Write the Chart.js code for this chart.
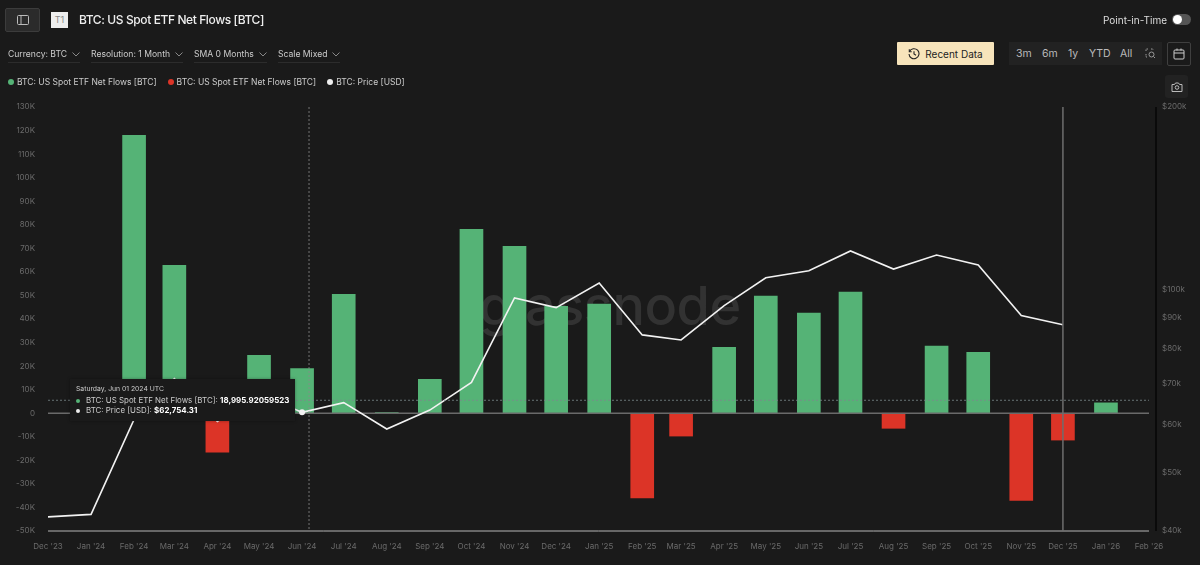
<!DOCTYPE html>
<html>
<head>
<meta charset="utf-8">
<title>BTC: US Spot ETF Net Flows [BTC]</title>
<script src="https://cdn.jsdelivr.net/npm/chart.js@4"></script>
<style>
  html, body { margin: 0; padding: 0; width: 1200px; height: 565px; overflow: hidden; background: #1a1a1a; font-family: Inter, "Noto Sans", sans-serif; color: #ddd; }
  .abs { position: absolute; white-space: nowrap; }
  #chart { position: absolute; left: 0; top: 0; }
  #watermark { left: 479px; top: 273px; font-size: 54px; font-weight: 500; color: #323232; letter-spacing: -0.5px; }
  #sidebtn { left: 5px; top: 8px; width: 33px; height: 22px; background: #2b2b2b; border: 1px solid #3c3c3c; border-radius: 2px; display: flex; align-items: center; justify-content: center; }
  #t1 { left: 51px; top: 12px; width: 17px; height: 16px; background: #eee; color: #888; font-size: 9px; line-height: 16px; text-align: center; }
  #title { left: 79px; top: 12px; font-size: 12px; font-weight: 500; color: #eee; letter-spacing: -0.4px; }
  #pit { left: 1103px; top: 14px; font-size: 10px; color: #ddd; }
  #toggle { left: 1172px; top: 14px; width: 19px; height: 11px; border-radius: 6px; background: #555; }
  #toggle i { position: absolute; left: 1px; top: 1px; width: 9px; height: 9px; border-radius: 50%; background: #fff; }
  .ctl { top: 48px; font-size: 8.6px; line-height: 13px; color: #ccc; height: 13px; border-bottom: 1px solid #2c2c2c; padding-bottom: 1px; }
  .ctl svg { margin-left: 5px; vertical-align: 0; }
  #recent { left: 897px; top: 42px; width: 97px; height: 23px; background: #f7e4bb; border-radius: 1px; color: #222; font-size: 10px; display: flex; align-items: center; justify-content: center; gap: 5px; }
  #ranges { left: 1009px; top: 42px; width: 153px; height: 23px; background: #222; }
  #ranges span { position: absolute; top: 5px; font-size: 10.5px; color: #bbb; }
  #calendar { left: 1167px; top: 42px; width: 22px; height: 22px; border: 1px solid #3f3f3f; border-radius: 2px; display: flex; align-items: center; justify-content: center; }
  #camera { left: 1165px; top: 75px; width: 23px; height: 23px; background: #222; border-radius: 3px; display: flex; align-items: center; justify-content: center; }
  #legend { left: 8px; top: 77px; font-size: 8.5px; color: #ccc; display: flex; gap: 11px; }
  #legend i { display: inline-block; width: 6px; height: 6px; border-radius: 50%; margin-right: 3px; }
  #tooltip { left: 70px; top: 379px; width: 225px; height: 42px; background: #1a1a1a; box-shadow: 0 0 3px rgba(0,0,0,.35); font-size: 7.9px; color: #ccc; }
  #tooltip div { position: absolute; left: 6px; white-space: nowrap; }
  #tooltip i { position: absolute; left: 0; top: 4px; width: 4px; height: 4px; border-radius: 50%; margin-left: 0; }
  #tooltip span { margin-left: 10px; }
  #tooltip b { color: #fff; font-weight: 700; }
</style>
</head>
<body>
<div class="abs" id="watermark">glassnode</div>
<canvas id="chart" width="1200" height="565"></canvas>

<div class="abs" id="sidebtn"><svg width="12" height="10" viewBox="0 0 12 10" fill="none" stroke="#bbb"><rect x=".5" y=".5" width="11" height="9" rx="1"/><path d="M4 .5v9"/></svg></div>
<div class="abs" id="t1">T1</div>
<div class="abs" id="title">BTC: US Spot ETF Net Flows [BTC]</div>
<div class="abs" id="pit">Point-in-Time</div>
<div class="abs" id="toggle"><i></i></div>
<div id="controls"></div>
<div class="abs" id="recent"><svg width="12" height="12" viewBox="0 0 12 12" fill="none" stroke="#222" stroke-width="1.1"><path d="M1.5 3.5A5 5 0 1 1 1 6"/><path d="M1.3 1.3v2.4h2.4M6 3.3V6l2 1.2"/></svg>Recent Data</div>
<div class="abs" id="ranges"></div>
<div class="abs" id="calendar"><svg width="12" height="12" viewBox="0 0 12 12" fill="none" stroke="#ccc"><rect x="1" y="2" width="10" height="9" rx="1"/><path d="M1 5h10M4 .5v2M8 .5v2"/></svg></div>
<div class="abs" id="camera"><svg width="12" height="10" viewBox="0 0 12 10" fill="none" stroke="#bbb"><path d="M1 2.5h2.5L4.5 1h3l1 1.500H11v7H1z"/><circle cx="6" cy="5.500" r="1.800"/></svg></div>
<div class="abs" id="legend"></div>
<div class="abs" id="tooltip"></div>

<script>
// Axis data, x positions are days since 1 Dec 2023
const monthLabels = ["Dec '23", "Jan '24", "Feb '24", "Mar '24", "Apr '24", "May '24", "Jun '24", "Jul '24", "Aug '24", "Sep '24", "Oct '24", "Nov '24", "Dec '24", "Jan '25", "Feb '25", "Mar '25", "Apr '25", "May '25", "Jun '25", "Jul '25", "Aug '25", "Sep '25", "Oct '25", "Nov '25", "Dec '25", "Jan '26", "Feb '26"];
const monthDays = [0, 31, 62, 91, 122, 152, 183, 213, 244, 275, 305, 336, 366, 397, 428, 456, 487, 517, 548, 578, 609, 640, 670, 701, 731, 762, 793];

// Net flows in BTC
const netFlows = [null, null, 118000, 62800, -16500, 24600, 18996, 50500, 300, 14400, 78100, 70900, 45400, 46300, -36000, -9700, 28000, 49700, 42500, 51400, -6400, 28500, 25900, -37000, -11400, 4400, null];

// BTC price in USD, ends at Dec '25
const prices = [42200, 42600, 61100, 71300, 60600, 67500, 62754, 65100, 58900, 63300, 70300, 96900, 93400, 102500, 84200, 82600, 94100, 104600, 107400, 115800, 108100, 114000, 109800, 90600, 87500, null, null];

const priceTicks = [40000, 50000, 60000, 70000, 80000, 90000, 100000, 200000];

const legendNames = ["BTC: US Spot ETF Net Flows [BTC]", "BTC: US Spot ETF Net Flows [BTC]", "BTC: Price [USD]"];
const controlNames = ["Currency: BTC", "Resolution: 1 Month", "SMA 0 Months", "Scale Mixed"];
const rangeNames = ["3m", "6m", "1y", "YTD", "All"];

const GREEN = '#55b376';
const RED = '#dc3427';
const hoverIndex = 6;       // Jun '24
const crossDay = 188;       // mouse position
const crossFlow = 5500;
const lastDay = 731;        // Dec '25, latest data line

// Toolbar and legend
const ctlX = [8, 91, 194, 278];
const chevron = '<svg width="8" height="5" viewBox="0 0 8 5" fill="none" stroke="#888"><path d="M.5 .5 4 4 7.500 .5"/></svg>';
document.getElementById('controls').innerHTML = controlNames.map((c, i) =>
    `<div class="abs ctl" style="left:${ctlX[i]}px">${c}${chevron}</div>`).join('');

const rangeX = [7, 33, 59, 80, 111];
document.getElementById('ranges').innerHTML = rangeNames.map((r, i) =>
    `<span style="left:${rangeX[i]}px">${r}</span>`).join('') +
    '<svg style="position:absolute;left:136px;top:6px" width="11" height="11" viewBox="0 0 11 11" fill="none" stroke="#999"><path d="M1 3V1h2M1 6v3h2M6 1h2v1" stroke-dasharray="1.500 1"/><circle cx="6.500" cy="6.500" r="2.500"/><path d="M8.500 8.500 10 10"/></svg>';

const legendColors = [GREEN, RED, '#eee'];
document.getElementById('legend').innerHTML = legendNames.map((n, i) =>
    `<span><i style="background:${legendColors[i]}"></i>${n}</span>`).join('');

document.getElementById('tooltip').innerHTML = `
    <div style="top:5px;font-size:6.8px">Saturday, Jun 01 2024 UTC</div>
    <div style="top:16px"><i style="background:${GREEN}"></i><span>${legendNames[0]}: <b>18,995.92059523</b></span></div>
    <div style="top:26px"><i style="background:#eee"></i><span>${legendNames[2]}: <b>$62,754.31</b></span></div>`;

// Zero line, axis baseline, crosshair and right edge, all placed through the scales
const hline = (chart, py, color, w, dash) => {
    const { ctx, chartArea: a } = chart;
    ctx.save(); ctx.strokeStyle = color; ctx.lineWidth = w; ctx.setLineDash(dash || []);
    ctx.beginPath(); ctx.moveTo(a.left, py); ctx.lineTo(a.right, py); ctx.stroke(); ctx.restore();
};
const vline = (chart, px, color, w, dash) => {
    const { ctx, chartArea: a } = chart;
    ctx.save(); ctx.strokeStyle = color; ctx.lineWidth = w; ctx.setLineDash(dash || []);
    ctx.beginPath(); ctx.moveTo(px, a.top); ctx.lineTo(px, a.bottom); ctx.stroke(); ctx.restore();
};
const guides = {
    id: 'guides',
    // after the bars, before the price line so the hover dot stays on top
    afterDatasetDraw(chart, args) {
        if (args.index === 1) hline(chart, chart.scales.y.getPixelForValue(0), '#6a6a6a', 1.5);
    },
    afterDatasetsDraw(chart) {
        const { chartArea: a, scales: { x, y } } = chart;
        hline(chart, a.bottom, '#b5b5b5', 1);
        hline(chart, y.getPixelForValue(crossFlow), '#7b8a8c', 0.8, [2, 2]);
        vline(chart, x.getPixelForValue(crossDay), '#8a8a8a', 0.8, [2, 2]);
        vline(chart, x.getPixelForValue(lastDay), '#6e6e6e', 1.5);
        vline(chart, a.right + 7, '#000', 1.2);
    }
};

const toPoints = values => values
    .map((v, i) => ({ x: monthDays[i], y: v }))
    .filter(p => p.y !== null);

const tickFont = { family: 'Inter', size: 8 };

new Chart(document.getElementById('chart').getContext('2d'), {
    type: 'bar',
    data: {
        datasets: [
            {
                type: 'line', label: legendNames[2], data: toPoints(prices), yAxisID: 'y1', order: 0,
                borderColor: '#f2f2f2', borderWidth: 1.6, tension: 0,
                pointBackgroundColor: '#f2f2f2', pointBorderWidth: 0,
                pointRadius: c => c.dataIndex === hoverIndex ? 3 : 0
            },
            {
                label: legendNames[0], data: toPoints(netFlows.map(v => v !== null && v > 0 ? v : null)),
                yAxisID: 'y', order: 1, backgroundColor: GREEN, barThickness: 23, grouped: false
            },
            {
                label: legendNames[1], data: toPoints(netFlows.map(v => v !== null && v < 0 ? v : null)),
                yAxisID: 'y', order: 1, backgroundColor: RED, barThickness: 23, grouped: false
            }
        ]
    },
    options: {
        responsive: false,
        animation: false,
        events: [],
        layout: { padding: { top: 107, left: 0, right: 0, bottom: 0 } },
        plugins: { legend: { display: false }, tooltip: { enabled: false } },
        scales: {
            x: {
                type: 'linear', min: 0, max: 793, offset: false,
                grid: { display: false }, border: { display: false },
                afterBuildTicks: s => { s.ticks = monthDays.map(v => ({ value: v })); },
                afterFit: s => { s.height = 34; },
                ticks: {
                    color: '#6a6a6a', font: tickFont, autoSkip: false, maxRotation: 0, padding: 3,
                    callback: (v, i) => monthLabels[i]
                }
            },
            y: {
                position: 'left', min: -50000, max: 130000,
                grid: { display: false }, border: { display: false },
                afterFit: s => { s.width = 48; },
                ticks: {
                    color: '#6a6a6a', font: tickFont, stepSize: 10000, padding: 5,
                    callback: v => v === 0 ? '0' : (v / 1000) + 'K'
                }
            },
            y1: {
                type: 'logarithmic', position: 'right', min: 40000, max: 200000,
                grid: { display: false }, border: { display: false },
                afterBuildTicks: s => { s.ticks = priceTicks.map(v => ({ value: v })); },
                afterFit: s => { s.width = 51; },
                ticks: {
                    color: '#6a6a6a', font: tickFont, padding: 5,
                    callback: v => '$' + (v / 1000) + 'k'
                }
            }
        }
    },
    plugins: [guides]
});
</script>
</body>
</html>
